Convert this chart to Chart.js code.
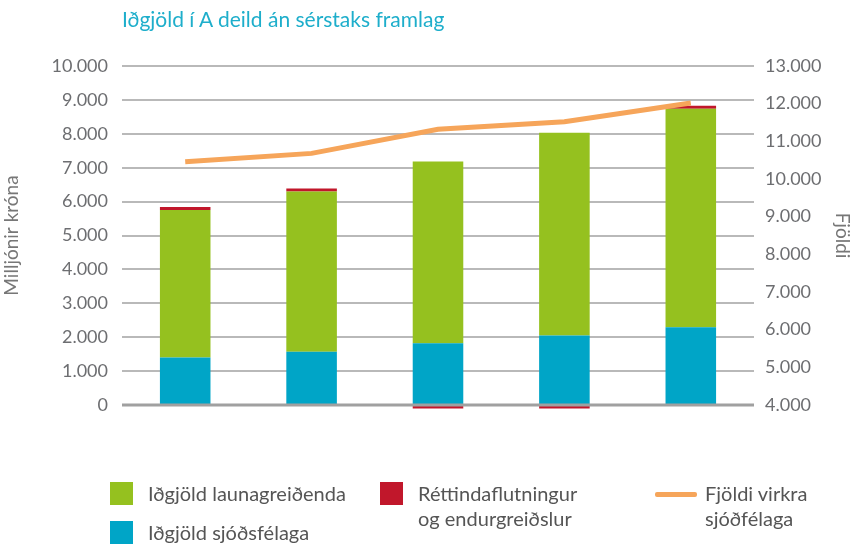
<!DOCTYPE html>
<html>
<head>
<meta charset="utf-8">
<script src="https://cdn.jsdelivr.net/npm/chart.js@4"></script>
<style>
  body { margin: 0; background: #fff; font-family: Lato, "Open Sans", sans-serif; }
  #wrap { position: relative; width: 854px; height: 544px; }
  #title { position: absolute; left: 122px; top: 6px; font-size: 21px; color: #1eaecb; }
  .leg { position: absolute; font-size: 20px; color: #555; line-height: 25px; }
  .sq { position: absolute; width: 23px; height: 23px; }
  .ln { position: absolute; width: 42px; height: 5px; background: #f6a55a; border-radius: 2px; }
</style>
</head>
<body>
<div id="wrap">
  <canvas id="chart" width="854" height="544"></canvas>
  <div id="title">Iðgjöld í A deild án sérstaks framlag</div>
  <div class="sq" style="left:110px;top:482px;background:#95c11f"></div>
  <div class="leg" style="left:148px;top:481px">Iðgjöld launagreiðenda</div>
  <div class="sq" style="left:110px;top:521px;background:#00a5c7"></div>
  <div class="leg" style="left:148px;top:520px">Iðgjöld sjóðsfélaga</div>
  <div class="sq" style="left:380px;top:482px;background:#c1172b"></div>
  <div class="leg" style="left:418px;top:481px">Réttindaflutningur<br>og endurgreiðslur</div>
  <div class="ln" style="left:655px;top:492px"></div>
  <div class="leg" style="left:705px;top:481px">Fjöldi virkra<br>sjóðfélaga</div>
</div>
<script>
const categories = ['1', '2', '3', '4', '5'];
const sjodfelagar = [1400, 1570, 1820, 2050, 2290];
const launagreidendur = [4350, 4730, 5360, 5980, 6450];
const rettindaflutningur = [90, 90, -100, -100, 90];
const fjoldiVirkra = [10460, 10680, 11320, 11520, 12020];

const fmt = v => String(v).replace(/\B(?=(\d{3})+(?!\d))/g, '.');
const tickFont = { family: 'Lato, "Open Sans", sans-serif', size: 18 };
const titleFont = { family: 'Lato, "Open Sans", sans-serif', size: 19 };

// zero line drawn over the bars, like the original
const zeroLine = {
  id: 'zeroLine',
  afterDatasetsDraw(chart) {
    const { ctx, chartArea, scales } = chart;
    const y = scales.y.getPixelForValue(0);
    ctx.save();
    ctx.strokeStyle = '#a0a0a0';
    ctx.lineWidth = 3;
    ctx.beginPath();
    ctx.moveTo(chartArea.left, y);
    ctx.lineTo(chartArea.right, y);
    ctx.stroke();
    ctx.restore();
  }
};

new Chart(document.getElementById('chart'), {
  type: 'bar',
  data: {
    labels: categories,
    datasets: [
      { type: 'line', label: 'Fjöldi virkra sjóðfélaga', data: fjoldiVirkra, yAxisID: 'y1',
        borderColor: '#f6a55a', borderWidth: 5, pointRadius: 0, tension: 0, order: 0 },
      { label: 'Iðgjöld sjóðsfélaga', data: sjodfelagar, backgroundColor: '#00a5c7', stack: 's', order: 1 },
      { label: 'Iðgjöld launagreiðenda', data: launagreidendur, backgroundColor: '#95c11f', stack: 's', order: 1 },
      { label: 'Réttindaflutningur og endurgreiðslur', data: rettindaflutningur, backgroundColor: '#c1172b', stack: 's', order: 1, clip: false }
    ]
  },
  options: {
    responsive: false,
    animation: false,
    layout: { padding: { top: 66, bottom: 139, left: 0, right: 0 } },
    datasets: { bar: { barPercentage: 0.4, categoryPercentage: 1 } },
    plugins: { legend: { display: false }, tooltip: { enabled: false } },
    scales: {
      x: { stacked: true, display: false },
      y: {
        stacked: true, min: 0, max: 10000,
        afterFit: s => { s.width = 122; },
        ticks: { stepSize: 1000, callback: fmt, color: '#6d6e71', font: tickFont, padding: 14 },
        grid: {
          color: c => c.tick.value === 0 ? 'rgba(0,0,0,0)' : '#b9b9b9',
          lineWidth: 2,
          drawTicks: false
        },
        border: { display: false },
        title: { display: true, text: 'Milljónir króna', color: '#777', font: titleFont, padding: { top: 0, bottom: 0 } }
      },
      y1: {
        position: 'right', min: 4000, max: 13000,
        afterFit: s => { s.width = 100; },
        ticks: { stepSize: 1000, callback: fmt, color: '#6d6e71', font: tickFont, padding: 11 },
        grid: { display: false, drawTicks: false },
        border: { display: false },
        title: { display: true, text: 'Fjöldi', color: '#777', font: titleFont, padding: { top: 0, bottom: 0 } }
      }
    }
  },
  plugins: [zeroLine]
});
</script>
</body>
</html>
